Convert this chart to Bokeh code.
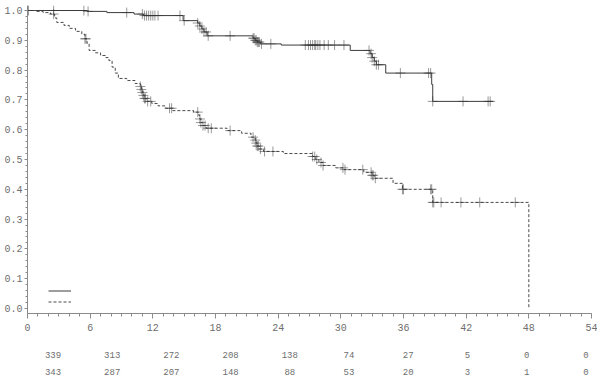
import numpy as np
from bokeh.plotting import figure
from bokeh.models import (Range1d, FixedTicker, NumeralTickFormatter, Legend, LegendItem,
                          ColumnDataSource)
from bokeh.layouts import column
from bokeh.core.properties import value
from bokeh.embed import file_html
from bokeh.resources import INLINE

# ---- data ----
# group 1 (solid line): event times (months) and survival after each step
g1_times = [0, 5.7, 7.6, 10.2, 11.1, 14.9, 16.3, 16.5, 16.7, 16.9, 17.2, 21.6, 21.8, 22.0, 22.3,
            24.3, 30.9, 32.8, 33.0, 33.2, 33.4, 34.3, 38.7, 38.8]
g1_surv = [1.0, 0.997, 0.993, 0.988, 0.983, 0.966, 0.958, 0.948, 0.938, 0.928, 0.915, 0.907,
           0.9, 0.894, 0.888, 0.884, 0.866, 0.855, 0.842, 0.83, 0.818, 0.79, 0.752, 0.695]
g1_last = 44.6
g1_censor = [0.1, 2.5, 5.4, 5.8, 9.5, 11.0, 11.2, 11.4, 11.6, 11.8, 12.0, 12.2, 12.5, 14.6, 15.0,
             16.3, 16.5, 16.7, 16.9, 17.1, 17.3, 19.4, 21.6, 21.7, 21.8, 21.9, 22.0, 22.1, 22.2,
             22.4, 23.3, 26.6, 26.9, 27.1, 27.3, 27.5, 27.6, 27.8, 28.0, 28.4, 28.8, 29.4, 30.3,
             32.7, 32.9, 33.0, 33.2, 33.4, 33.6, 35.7, 38.4, 38.6, 38.8, 41.7, 44.1, 44.3]

# group 2 (dashed line)
g2_times = [0, 0.8, 1.5, 2.2, 2.6, 2.8, 3.5, 4.0, 4.6, 5.2, 5.5, 5.7, 5.9, 6.5, 7.0, 7.5, 7.8,
            8.1, 8.4, 8.7, 9.5, 10.3, 10.8, 10.9, 11.0, 11.1, 11.2, 11.4, 11.9, 12.5, 13.2, 13.9,
            15.9, 16.4, 16.5, 16.6, 16.8, 17.1, 19.1, 20.5, 21.4, 21.8, 21.9, 22.0, 22.2, 22.6,
            24.5, 27.3, 27.6, 27.9, 28.3, 29.5, 30.3, 32.2, 33.0, 33.2, 35.0, 35.9, 38.8, 48.0]
g2_surv = [1.0, 0.997, 0.993, 0.988, 0.975, 0.96, 0.95, 0.94, 0.93, 0.92, 0.905, 0.89, 0.866,
           0.858, 0.849, 0.842, 0.832, 0.81, 0.79, 0.772, 0.765, 0.755, 0.745, 0.735, 0.725,
           0.715, 0.705, 0.695, 0.688, 0.68, 0.672, 0.664, 0.659, 0.648, 0.636, 0.624, 0.614,
           0.605, 0.597, 0.588, 0.575, 0.565, 0.555, 0.545, 0.535, 0.527, 0.52, 0.51, 0.5, 0.49,
           0.48, 0.472, 0.466, 0.457, 0.447, 0.437, 0.42, 0.40, 0.356, 0.0]
g2_censor = [2.5, 5.5, 5.6, 10.8, 10.9, 11.0, 11.1, 11.2, 11.3, 11.5, 11.8, 13.6, 13.8, 16.3,
             16.5, 16.6, 16.8, 17.0, 17.3, 17.6, 19.4, 21.6, 21.8, 21.9, 22.0, 22.1, 22.3, 22.7,
             23.5, 27.3, 27.5, 27.7, 28.1, 28.3, 30.2, 30.4, 32.1, 32.9, 33.0, 33.1, 33.3, 35.9,
             36.0, 38.6, 38.7, 38.8, 38.9, 39.6, 41.5, 43.3, 46.7]

x_ticks = [0, 6, 12, 18, 24, 30, 36, 42, 48, 54]
y_ticks = [0.0, 0.1, 0.2, 0.3, 0.4, 0.5, 0.6, 0.7, 0.8, 0.9, 1.0]
risk_g1 = [339, 313, 272, 208, 138, 74, 27, 5, 0, 0]
risk_g2 = [343, 287, 207, 148, 88, 53, 20, 3, 1, 0]


def surv_at(times, surv, t):
    idx = np.searchsorted(np.asarray(times), np.asarray(t), side="right") - 1
    return np.asarray(surv)[idx]


FONT = "Liberation Mono"
AX = "#8a8a8a"
TXT = "#6e6e6e"

W = 597
LEFT = 27
RIGHT = 6
XMAX = 54
PX_PER_UNIT = (W - LEFT - RIGHT) / XMAX

p = figure(width=W, height=338, output_backend="svg", toolbar_location=None,
           x_range=Range1d(0, XMAX), y_range=Range1d(-5 / 298, 1 + 5 / 298),
           min_border_left=LEFT, min_border_right=RIGHT, min_border_top=5, min_border_bottom=25)
p.outline_line_color = None
p.grid.visible = False
p.background_fill_color = "white"

# step curves
x1 = list(g1_times) + [g1_last]
y1 = list(g1_surv) + [g1_surv[-1]]
r1 = p.step(x1, y1, mode="after", line_color="#3c3c3c", line_width=1)
r2 = p.step(list(g2_times), list(g2_surv), mode="after", line_color="#4a4a4a", line_width=1,
            line_dash="3 2")

# censor marks
c1y = surv_at(g1_times, g1_surv, g1_censor)
c2y = surv_at(g2_times, g2_surv, g2_censor)
p.scatter(g1_censor, c1y, marker="cross", size=10, line_color="#333333", line_alpha=0.5,
          line_width=1)
p.scatter(g2_censor, c2y, marker="cross", size=10, line_color="#333333", line_alpha=0.5,
          line_width=1)

# axes
xa = p.xaxis[0]
xa.ticker = FixedTicker(ticks=x_ticks, minor_ticks=list(range(0, 55)))
ya = p.yaxis[0]
ya.ticker = FixedTicker(ticks=y_ticks, minor_ticks=[round(i * 0.02, 2) for i in range(51)])
ya.formatter = NumeralTickFormatter(format="0.0")
for ax in (xa, ya):
    ax.axis_line_color = AX
    ax.major_tick_line_color = AX
    ax.minor_tick_line_color = AX
    ax.major_label_text_font = FONT
    ax.major_label_text_font_size = "10px"
    ax.major_label_text_color = TXT
    ax.major_tick_in = 0
    ax.minor_tick_in = 0
xa.major_tick_out = 5
xa.minor_tick_out = 3
xa.major_label_standoff = 5
ya.major_tick_out = 3
ya.minor_tick_out = 2
ya.major_label_standoff = 2

# legend (line samples only)
legend = Legend(items=[LegendItem(label=value(" "), renderers=[r1]),
                       LegendItem(label=value(" "), renderers=[r2])],
                location=(21, 6), orientation="vertical", margin=0, padding=0, spacing=0,
                glyph_width=23, glyph_height=11, label_height=11, label_width=0,
                label_standoff=0, label_text_font_size="1px",
                border_line_color=None, background_fill_alpha=0)
p.add_layout(legend)

# numbers at risk (same horizontal scale as the plot, frame spanning the full width)
q = figure(width=W, height=50, output_backend="svg", toolbar_location=None,
           x_range=Range1d(-LEFT / PX_PER_UNIT, XMAX + RIGHT / PX_PER_UNIT),
           y_range=Range1d(2.0, -16 / 17),
           min_border_left=0, min_border_right=0, min_border_top=0, min_border_bottom=0)
q.axis.visible = False
q.grid.visible = False
q.outline_line_color = None
src = ColumnDataSource(dict(
    x=x_ticks + x_ticks,
    y=[0] * len(x_ticks) + [1] * len(x_ticks),
    t=[str(v) for v in risk_g1] + [str(v) for v in risk_g2],
))
q.text(x="x", y="y", text="t", source=src, text_align="center", text_baseline="middle",
       text_font=value(FONT), text_font_size="9px", text_color=TXT)

layout = column(p, q, spacing=0)
open("out.html", "w").write(file_html(layout, INLINE))
